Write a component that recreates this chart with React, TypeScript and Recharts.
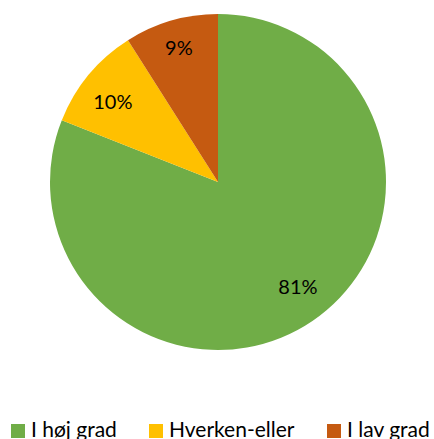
import { PieChart, Pie, Cell, Legend } from 'recharts';

const categories = ['I høj grad', 'Hverken-eller', 'I lav grad'];
const shares = [81, 10, 9];
const COLORS = ['#70AD47', '#FFC000', '#C55A11'];

const data = categories.map((name, i) => ({ name, value: shares[i] }));

const FONT = 'Lato, "Open Sans", sans-serif';
const RADIAN = Math.PI / 180;

// Excel "best fit" puts the labels a little off the mid angle
const LABEL_RADIUS = [0.78, 0.79, 0.835];
const LABEL_SHIFT = [3.4, 2, 0];

function renderLabel(props: any) {
  const { cx, cy, midAngle, outerRadius, value, index } = props;
  const r = outerRadius * LABEL_RADIUS[index];
  const a = (midAngle + LABEL_SHIFT[index]) * RADIAN;
  const x = cx + r * Math.cos(-a);
  const y = cy + r * Math.sin(-a);
  return (
    <text x={x} y={y} fill="#000" fontSize={20} fontFamily={FONT} textAnchor="middle" dominantBaseline="central">
      {`${value}%`}
    </text>
  );
}

function renderLegend() {
  const lefts = [11, 149, 327];
  return (
    <div style={{ position: 'relative', width: 434, height: 30 }}>
      {categories.map((name, i) => (
        <div key={name} style={{ position: 'absolute', left: lefts[i], top: 0, display: 'flex', alignItems: 'center' }}>
          <span style={{ display: 'inline-block', width: 14, height: 14, background: COLORS[i], marginRight: 6, marginTop: 4 }} />
          <span style={{ fontFamily: FONT, fontSize: 21, color: '#000', lineHeight: '22px' }}>{name}</span>
        </div>
      ))}
    </div>
  );
}

export default function App() {
  return (
    <div style={{ position: 'absolute', left: 0, top: 0, width: 434, height: 439, overflow: 'hidden', background: '#fff' }}>
      <PieChart width={434} height={439} margin={{ top: 0, right: 0, bottom: 0, left: 0 }}>
        <Pie
          data={data}
          dataKey="value"
          nameKey="name"
          cx={218}
          cy={182}
          outerRadius={168}
          startAngle={90}
          endAngle={-270}
          stroke="none"
          label={renderLabel}
          labelLine={false}
          isAnimationActive={false}
        >
          {data.map((entry, index) => (
            <Cell key={`cell-${index}`} fill={COLORS[index]} />
          ))}
        </Pie>
        <Legend content={renderLegend} wrapperStyle={{ left: 0, top: 418, width: 434 }} />
      </PieChart>
    </div>
  );
}
